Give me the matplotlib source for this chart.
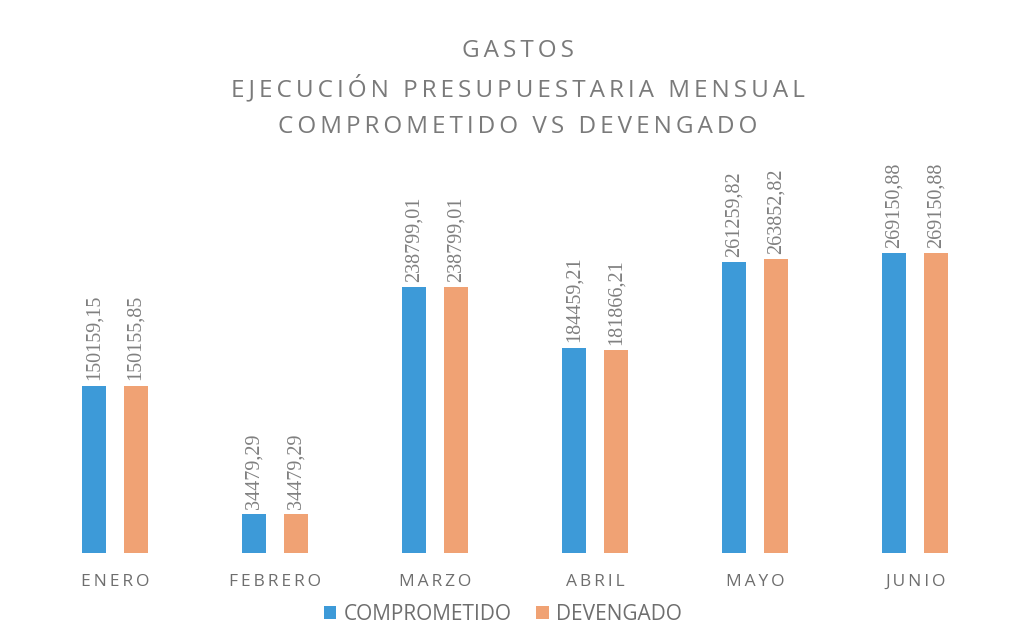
import numpy as np
import matplotlib.pyplot as plt

meses = ["ENERO", "FEBRERO", "MARZO", "ABRIL", "MAYO", "JUNIO"]
comprometido = [150159.15, 34479.29, 238799.01, 184459.21, 261259.82, 269150.88]
devengado = [150155.85, 34479.29, 238799.01, 181866.21, 263852.82, 269150.88]

titulo = ["GASTOS", "EJECUCIÓN PRESUPUESTARIA MENSUAL", "COMPROMETIDO VS DEVENGADO"]

AZUL = "#3d9ad8"
NARANJA = "#f0a274"
GRIS = "#6e6e6e"
FUENTE = ["Open Sans", "DejaVu Sans"]


def espaciar(txt, sep="\u2009"):
    """Separa las letras con espacio fino para imitar el tracking del titulo."""
    return sep.join(txt)


def fmt(v):
    return f"{v:.2f}".replace(".", ",")


fig = plt.figure(figsize=(10.2, 6.34), dpi=100)
ax = fig.add_axes([0.034, 0.128, 0.942, 0.632])

x = np.arange(len(meses))
ancho = 0.15
desp = 0.131
b1 = ax.bar(x - desp, comprometido, ancho, color=AZUL, label="COMPROMETIDO")
b2 = ax.bar(x + desp, devengado, ancho, color=NARANJA, label="DEVENGADO")

for barras, vals in ((b1, comprometido), (b2, devengado)):
    for b, v in zip(barras, vals):
        ax.annotate(fmt(v), (b.get_x() + b.get_width() / 2, v),
                    xytext=(0, 4), textcoords="offset points",
                    rotation=90, ha="center", va="bottom",
                    fontsize=14.5, color="#808080", family="Liberation Serif")

ax.set_xlim(-0.5, len(meses) - 0.5)
ax.set_ylim(0, 360000)
ax.set_xticks(x)
ax.set_xticklabels([espaciar(m) for m in meses], family=FUENTE,
                   fontsize=12.5, color=GRIS)
ax.tick_params(axis="x", length=0, pad=15)
ax.set_yticks([])
for s in ax.spines.values():
    s.set_visible(False)

ys = [0.919, 0.860, 0.800]
for t, y in zip(titulo, ys):
    fig.text(0.508, y, espaciar(t), ha="center", va="center",
             fontsize=17.5, color="#7a7a7a", family=FUENTE)

leg = fig.legend(handles=[b1, b2], loc="center", bbox_to_anchor=(0.493, 0.031),
                 ncol=2, frameon=False, handlelength=0.6, handleheight=0.6,
                 handletextpad=0.35, columnspacing=1.2,
                 prop={"family": FUENTE, "size": 15})
for t in leg.get_texts():
    t.set_color(GRIS)

fig.savefig("out.png", dpi=100, facecolor="white")
